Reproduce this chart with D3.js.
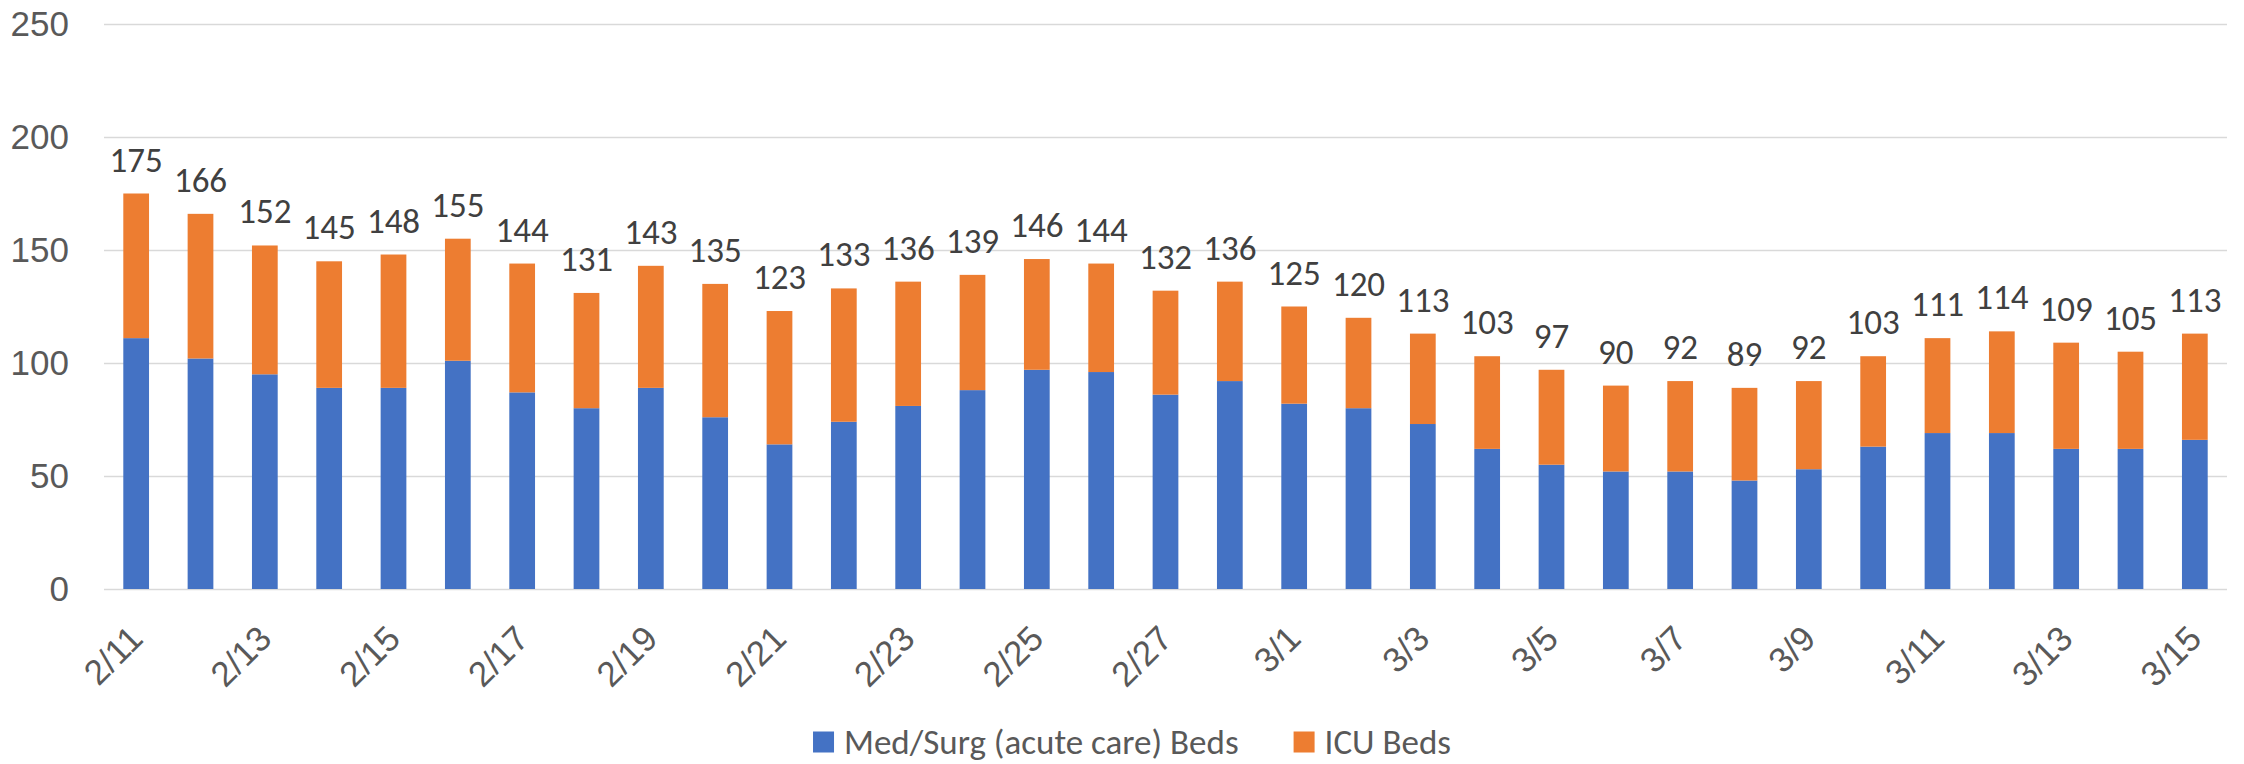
<!DOCTYPE html>
<html>
<head>
<meta charset="utf-8">
<script src="https://cdn.jsdelivr.net/npm/d3@7"></script>
<style>
  body { margin: 0; background: #fff; }
  svg { display: block; font-family: Carlito, Calibri, Lato, sans-serif; }
</style>
</head>
<body>
<div id="wrapper"></div>
<script>
const dates = ['2/11','2/12','2/13','2/14','2/15','2/16','2/17','2/18','2/19','2/20',
  '2/21','2/22','2/23','2/24','2/25','2/26','2/27','2/28','3/1','3/2','3/3','3/4',
  '3/5','3/6','3/7','3/8','3/9','3/10','3/11','3/12','3/13','3/14','3/15'];
const medSurg = [111,102,95,89,89,101,87,80,89,76,64,74,81,88,97,96,86,92,82,80,73,62,
  55,52,52,48,53,63,69,69,62,62,66];
const icu = [64,64,57,56,59,54,57,51,54,59,59,59,55,51,49,48,46,44,43,40,40,41,
  42,38,40,41,39,40,42,45,47,43,47];
const seriesNames = ['Med/Surg (acute care) Beds', 'ICU Beds'];
const colors = ['#4472C4', '#ED7D31'];
const yTicks = [0, 50, 100, 150, 200, 250];

const dimensions = {
  width: 2244,
  height: 764,
  margin: { top: 24, right: 17, bottom: 175, left: 104 }
};
dimensions.boundWidth = dimensions.width - dimensions.margin.left - dimensions.margin.right;
dimensions.boundHeight = dimensions.height - dimensions.margin.top - dimensions.margin.bottom;

const fontSize = '35px';

const table = dates.map((d, i) => ({ date: d, med: medSurg[i], icu: icu[i] }));
const stacked = d3.stack().keys(['med', 'icu'])(table);

const svg = d3.select('#wrapper').append('svg')
  .attr('width', dimensions.width)
  .attr('height', dimensions.height);

const bounds = svg.append('g')
  .attr('transform', `translate(${dimensions.margin.left},${dimensions.margin.top})`);

const xScale = d3.scaleBand()
  .domain(dates)
  .range([0, dimensions.boundWidth])
  .paddingInner(0.6)
  .paddingOuter(0.3);

const yScale = d3.scaleLinear()
  .domain([0, 250])
  .range([dimensions.boundHeight, 0]);

// gridlines + y labels
const yAxis = bounds.append('g')
  .call(d3.axisLeft(yScale).tickValues(yTicks).tickSize(-dimensions.boundWidth).tickPadding(35));
yAxis.select('.domain').remove();
yAxis.selectAll('line').attr('stroke', '#d9d9d9').attr('stroke-width', 1.5);
yAxis.selectAll('text')
  .attr('fill', '#595959')
  .style('font-size', fontSize);

// bars
bounds.append('g').selectAll('g')
  .data(stacked)
  .join('g')
  .attr('fill', (d, i) => colors[i])
  .selectAll('rect')
  .data(d => d)
  .join('rect')
  .attr('x', d => xScale(d.data.date))
  .attr('width', xScale.bandwidth())
  .attr('y', d => yScale(d[1]))
  .attr('height', d => yScale(d[0]) - yScale(d[1]));

// total labels
bounds.append('g').selectAll('text')
  .data(table)
  .join('text')
  .attr('x', d => xScale(d.date) + xScale.bandwidth() / 2)
  .attr('y', d => yScale(d.med + d.icu) - 22)
  .attr('text-anchor', 'middle')
  .attr('fill', '#404040')
  .style('font-size', fontSize)
  .text(d => d.med + d.icu);

// x axis
const xAxis = bounds.append('g')
  .attr('transform', `translate(0,${dimensions.boundHeight})`)
  .call(d3.axisBottom(xScale).tickSize(0).tickFormat((d, i) => i % 2 === 0 ? d : ''));
xAxis.select('.domain').remove();
xAxis.selectAll('text')
  .attr('fill', '#595959')
  .style('font-size', fontSize)
  .attr('text-anchor', 'end')
  .attr('dy', '0.35em')
  .attr('transform', 'translate(0,43) rotate(-45)')
  .attr('y', 0);

// legend
const legend = svg.append('g');
const items = legend.selectAll('g')
  .data(seriesNames)
  .join('g');
items.append('rect')
  .attr('width', 21).attr('height', 21)
  .attr('y', -10.5)
  .attr('fill', (d, i) => colors[i]);
items.append('text')
  .attr('x', 31)
  .attr('dy', '0.35em')
  .attr('fill', '#595959')
  .style('font-size', fontSize)
  .text(d => d);
let offset = 0;
items.each(function () {
  d3.select(this).attr('transform', `translate(${offset},0)`);
  offset += this.getBBox().width + 55;
});
const legendWidth = offset - 55;
legend.attr('transform', `translate(${1132 - legendWidth / 2},742)`);
</script>
</body>
</html>
